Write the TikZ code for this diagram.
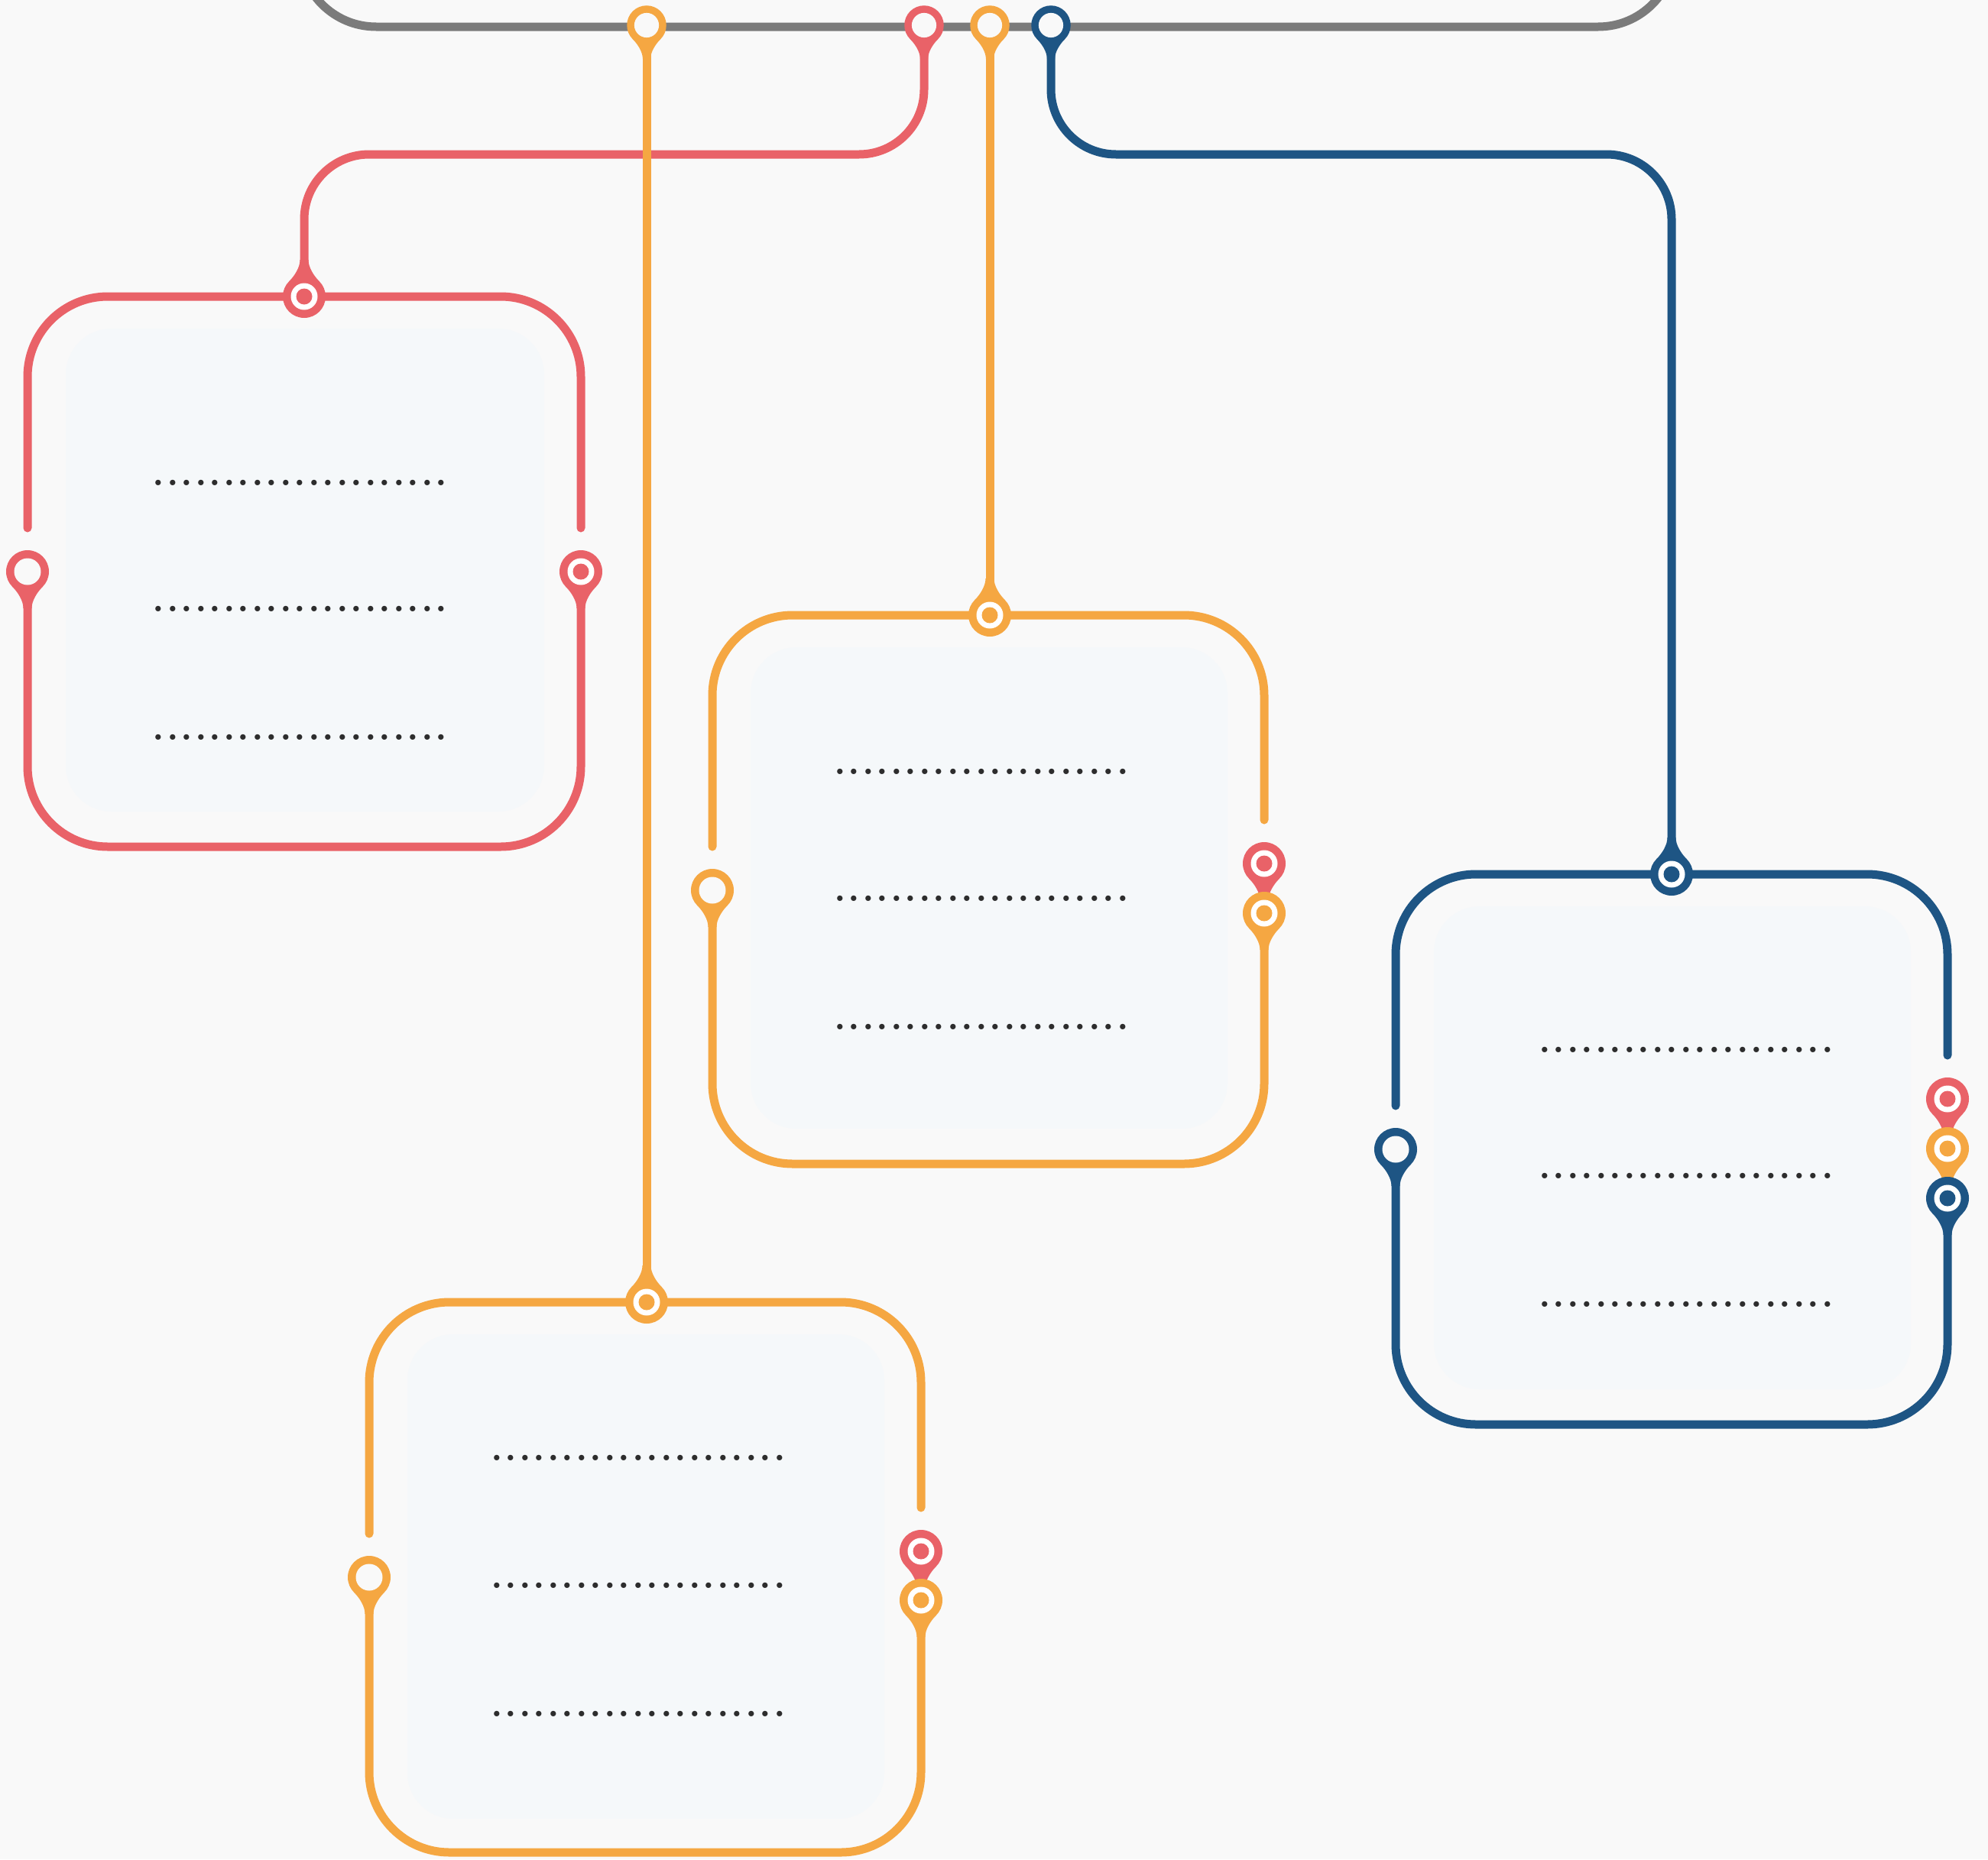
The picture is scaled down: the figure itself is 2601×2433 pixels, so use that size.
\documentclass[tikz,border=0pt]{standalone}
\usepackage{fontspec}
\definecolor{bgcol}{RGB}{249,249,249}
\definecolor{innercol}{RGB}{245,248,250}
\definecolor{cred}{RGB}{233,98,104}
\definecolor{corange}{RGB}{245,167,66}
\definecolor{cblue}{RGB}{30,85,132}
\definecolor{cgray}{RGB}{123,123,123}
\definecolor{cdot}{RGB}{45,45,45}
\newcommand{\mydot}{\makebox[18.5pt][c]{.}}
\newcommand{\dotrowtext}{\fontsize{50}{50}\selectfont\bfseries\mydot\mydot\mydot\mydot\mydot\mydot\mydot\mydot\mydot\mydot\mydot\mydot\mydot\mydot\mydot\mydot\mydot\mydot\mydot\mydot\mydot}
\tikzset{
  boxline/.style={line width=11, rounded corners=105},
  conn/.style={line width=11, rounded corners=85},
  dotrow/.style={inner sep=0pt, outer sep=0pt, text=cdot, anchor=center},
  innerbox/.style={fill=innercol, rounded corners=60},
  pics/target/.style={code={
    \fill[#1] (0,0) circle (28);
    \fill[#1] (135:28) .. controls +(45:10) and +(0,-10) .. (-5.5,48) -- (5.5,48) .. controls +(0,-10) and +(135:10) .. (45:28) -- cycle;
    \fill[white] (0,0) circle (17.5);
    \fill[#1] (0,0) circle (10.5);
  }},
  pics/hollow/.style={code={
    \fill[#1] (0,0) circle (28);
    \fill[#1] (135:28) .. controls +(45:10) and +(0,-10) .. (-5.5,48) -- (5.5,48) .. controls +(0,-10) and +(135:10) .. (45:28) -- cycle;
    \fill[bgcol] (0,0) circle (17.5);
  }},
}
\begin{document}
\begin{tikzpicture}[x=1pt,y=-1pt,line cap=round,line join=round]
\useasboundingbox (0,0) rectangle (2601,2433);
\clip (0,0) rectangle (2601,2433);
\fill[bgcol] (0,0) rectangle (2601,2433);

% inner light panels
\fill[innerbox] (86,430) rectangle (712,1062);
\fill[innerbox] (982,847) rectangle (1606,1477);
\fill[innerbox] (1876,1186) rectangle (2500,1818);
\fill[innerbox] (533,1746) rectangle (1157,2380);

% top gray box
\draw[cgray, line width=11, rounded corners=100] (392,-150) -- (392,35) -- (2191,35) -- (2191,-150);

% named pin coordinates
\coordinate (gO1) at (846,33);
\coordinate (gR) at (1209,33);
\coordinate (gO2) at (1295,33);
\coordinate (gB) at (1375,33);
\coordinate (rT) at (398,388);
\coordinate (mT) at (1295,805);
\coordinate (bT) at (2187,1144);
\coordinate (oT) at (846,1704);

% connectors
\draw[conn, cred] (gR) -- ++(0,169) -| (rT);
\draw[conn, cblue] (gB) -- ++(0,169) -| (bT);
\draw[conn, corange] (gO1) -- (oT);
\draw[conn, corange] (gO2) -- (mT);

% boxes
\draw[boxline, cred] (36,748) -- (36,1108) -- (760,1108) -- (760,748);
\draw[boxline, cred] (36,691) -- (36,388) -- (760,388) -- (760,691);

\draw[boxline, corange] (932,1165) -- (932,1523) -- (1654,1523) -- (1654,1195);
\draw[boxline, corange] (932,1108) -- (932,805) -- (1654,805) -- (1654,1073);

\draw[boxline, cblue] (1826,1504) -- (1826,1864) -- (2548,1864) -- (2548,1568);
\draw[boxline, cblue] (1826,1447) -- (1826,1144) -- (2548,1144) -- (2548,1381);

\draw[boxline, corange] (483,2064) -- (483,2424) -- (1205,2424) -- (1205,2094);
\draw[boxline, corange] (483,2007) -- (483,1704) -- (1205,1704) -- (1205,1973);

% top pins on gray line
\pic[scale=0.92] at (gO1) {hollow=corange};
\pic[scale=0.92] at (gR) {hollow=cred};
\pic[scale=0.92] at (gO2) {hollow=corange};
\pic[scale=0.92] at (gB) {hollow=cblue};

% box top pins
\pic[rotate=180] at (rT) {target=cred};
\pic[rotate=180] at (mT) {target=corange};
\pic[rotate=180] at (bT) {target=cblue};
\pic[rotate=180] at (oT) {target=corange};

% left pins
\pic at (36,748) {hollow=cred};
\pic at (932,1165) {hollow=corange};
\pic at (1826,1504) {hollow=cblue};
\pic at (483,2064) {hollow=corange};

% right pins
\pic at (760,748) {target=cred};
\pic at (1654,1130) {target=cred};
\pic at (1654,1195) {target=corange};
\pic at (2548,1438) {target=cred};
\pic at (2548,1503) {target=corange};
\pic at (2548,1568) {target=cblue};
\pic at (1205,2030) {target=cred};
\pic at (1205,2094) {target=corange};

% dotted text rows
\node[dotrow] (r1) at (392.5,632) {\dotrowtext};
\node[dotrow] (r2) at (392.5,797) {\dotrowtext};
\node[dotrow] (r3) at (392.5,965) {\dotrowtext};
\node[dotrow] (m1) at (1284,1010) {\dotrowtext};
\node[dotrow] (m2) at (1284,1176) {\dotrowtext};
\node[dotrow] (m3) at (1284,1344) {\dotrowtext};
\node[dotrow] (b1) at (2206,1374) {\dotrowtext};
\node[dotrow] (b2) at (2206,1539) {\dotrowtext};
\node[dotrow] (b3) at (2206,1707) {\dotrowtext};
\node[dotrow] (o1) at (835,1908) {\dotrowtext};
\node[dotrow] (o2) at (835,2075) {\dotrowtext};
\node[dotrow] (o3) at (835,2243) {\dotrowtext};
\end{tikzpicture}
\end{document}
